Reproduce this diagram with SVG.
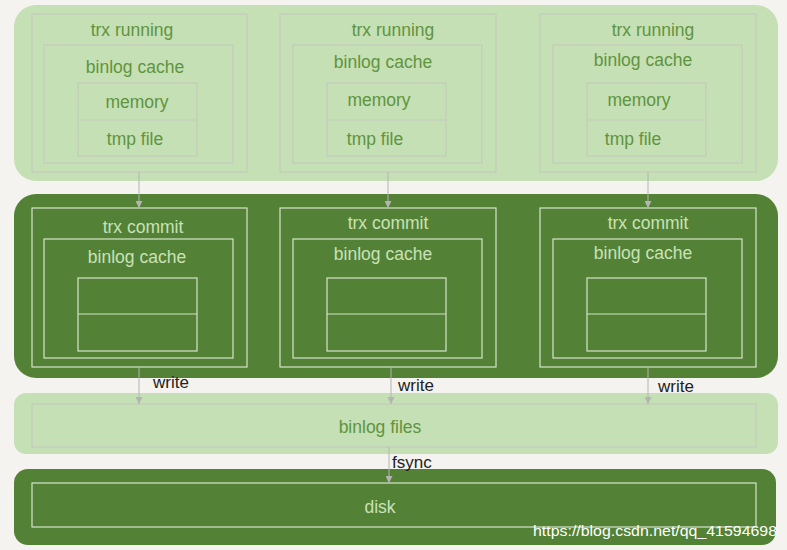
<svg xmlns="http://www.w3.org/2000/svg" width="787" height="550" viewBox="0 0 787 550">
<defs>
<marker id="arr" viewBox="0 0 10 10" refX="10" refY="5" markerWidth="7" markerHeight="7" markerUnits="userSpaceOnUse" orient="auto">
<path d="M0,0 L10,5 L0,10 z" fill="#b4b4b4"/>
</marker>
<style>
.lband{fill:#c5e0b4}
.dband{fill:#538135}
.lbox{fill:none;stroke:#c4cabd;stroke-width:1.2}
.dbox{fill:none;stroke:#d6e4cc;stroke-width:1.2}
.lt{font-family:"Liberation Sans",Arial,sans-serif;font-size:17.5px;fill:#5f9440;text-anchor:middle}
.dt{font-family:"Liberation Sans",Arial,sans-serif;font-size:17.5px;fill:#c9e2b8;text-anchor:middle}
.bt{font-family:"Liberation Sans",Arial,sans-serif;font-size:17px;fill:#222}
.conn{stroke:#b4b4b4;stroke-width:1;fill:none;marker-end:url(#arr)}
</style>
</defs>
<rect width="787" height="550" fill="#f4f3ef"/>

<g id="band-running">
<rect class="lband" x="14" y="5" width="764" height="176" rx="22"/>
</g>
<g id="band-commit">
<rect class="dband" x="14" y="194" width="764" height="184" rx="22"/>
</g>
<g id="band-binlog-files">
<rect class="lband" x="14" y="393" width="764" height="61" rx="12"/>
<rect class="lbox" x="32" y="404" width="724" height="43"/>
<text class="lt" x="380" y="433">binlog files</text>
</g>
<g id="band-disk">
<rect class="dband" x="14" y="469" width="762" height="76" rx="14"/>
<rect class="dbox" x="32" y="483" width="724" height="44"/>
<text class="dt" x="380" y="513">disk</text>
</g>

<g id="running-1">
<rect class="lbox" x="32" y="14" width="215" height="158"/>
<text class="lt" x="132" y="36">trx running</text>
<rect class="lbox" x="44" y="45" width="189" height="118"/>
<text class="lt" x="135" y="73">binlog cache</text>
<rect class="lbox" x="78" y="83" width="119" height="73"/>
<line class="lbox" x1="78" y1="120" x2="197" y2="120"/>
<text class="lt" x="137" y="108">memory</text>
<text class="lt" x="135" y="145">tmp file</text>
</g>
<g id="running-2">
<rect class="lbox" x="280" y="14" width="216" height="158"/>
<text class="lt" x="393" y="36">trx running</text>
<rect class="lbox" x="293" y="45" width="189" height="118"/>
<text class="lt" x="383" y="68">binlog cache</text>
<rect class="lbox" x="327" y="83" width="119" height="73"/>
<line class="lbox" x1="327" y1="120" x2="446" y2="120"/>
<text class="lt" x="379" y="106">memory</text>
<text class="lt" x="375" y="145">tmp file</text>
</g>
<g id="running-3">
<rect class="lbox" x="540" y="14" width="216" height="158"/>
<text class="lt" x="653" y="36">trx running</text>
<rect class="lbox" x="553" y="45" width="189" height="118"/>
<text class="lt" x="643" y="66">binlog cache</text>
<rect class="lbox" x="587" y="83" width="119" height="73"/>
<line class="lbox" x1="587" y1="120" x2="706" y2="120"/>
<text class="lt" x="639" y="106">memory</text>
<text class="lt" x="633" y="145">tmp file</text>
</g>

<g id="commit-1">
<rect class="dbox" x="32" y="208" width="215" height="159"/>
<text class="dt" x="143" y="233">trx commit</text>
<rect class="dbox" x="44" y="239" width="189" height="119"/>
<text class="dt" x="137" y="263">binlog cache</text>
<rect class="dbox" x="78" y="278" width="119" height="73"/>
<line class="dbox" x1="78" y1="314" x2="197" y2="314"/>
</g>
<g id="commit-2">
<rect class="dbox" x="280" y="208" width="216" height="159"/>
<text class="dt" x="388" y="229">trx commit</text>
<rect class="dbox" x="293" y="239" width="189" height="119"/>
<text class="dt" x="383" y="260">binlog cache</text>
<rect class="dbox" x="327" y="278" width="119" height="73"/>
<line class="dbox" x1="327" y1="314" x2="446" y2="314"/>
</g>
<g id="commit-3">
<rect class="dbox" x="540" y="208" width="216" height="159"/>
<text class="dt" x="648" y="229">trx commit</text>
<rect class="dbox" x="553" y="239" width="189" height="119"/>
<text class="dt" x="643" y="259">binlog cache</text>
<rect class="dbox" x="587" y="278" width="119" height="73"/>
<line class="dbox" x1="587" y1="314" x2="706" y2="314"/>
</g>

<g id="connectors">
<line class="conn" x1="139" y1="172" x2="139" y2="208"/>
<line class="conn" x1="388" y1="172" x2="388" y2="208"/>
<line class="conn" x1="648" y1="172" x2="648" y2="208"/>
<line class="conn" x1="139" y1="367" x2="139" y2="404"/>
<line class="conn" x1="391" y1="367" x2="391" y2="404"/>
<line class="conn" x1="648" y1="367" x2="648" y2="404"/>
<line class="conn" x1="389" y1="447" x2="389" y2="483"/>
<text class="bt" x="153" y="388">write</text>
<text class="bt" x="398" y="391">write</text>
<text class="bt" x="658" y="392">write</text>
<text class="bt" x="392" y="468">fsync</text>
</g>

<text x="533" y="536" font-family="Liberation Sans,Arial,sans-serif" font-size="15" fill="#ffffff" textLength="244" lengthAdjust="spacingAndGlyphs">https://blog.csdn.net/qq_41594698</text>
</svg>
